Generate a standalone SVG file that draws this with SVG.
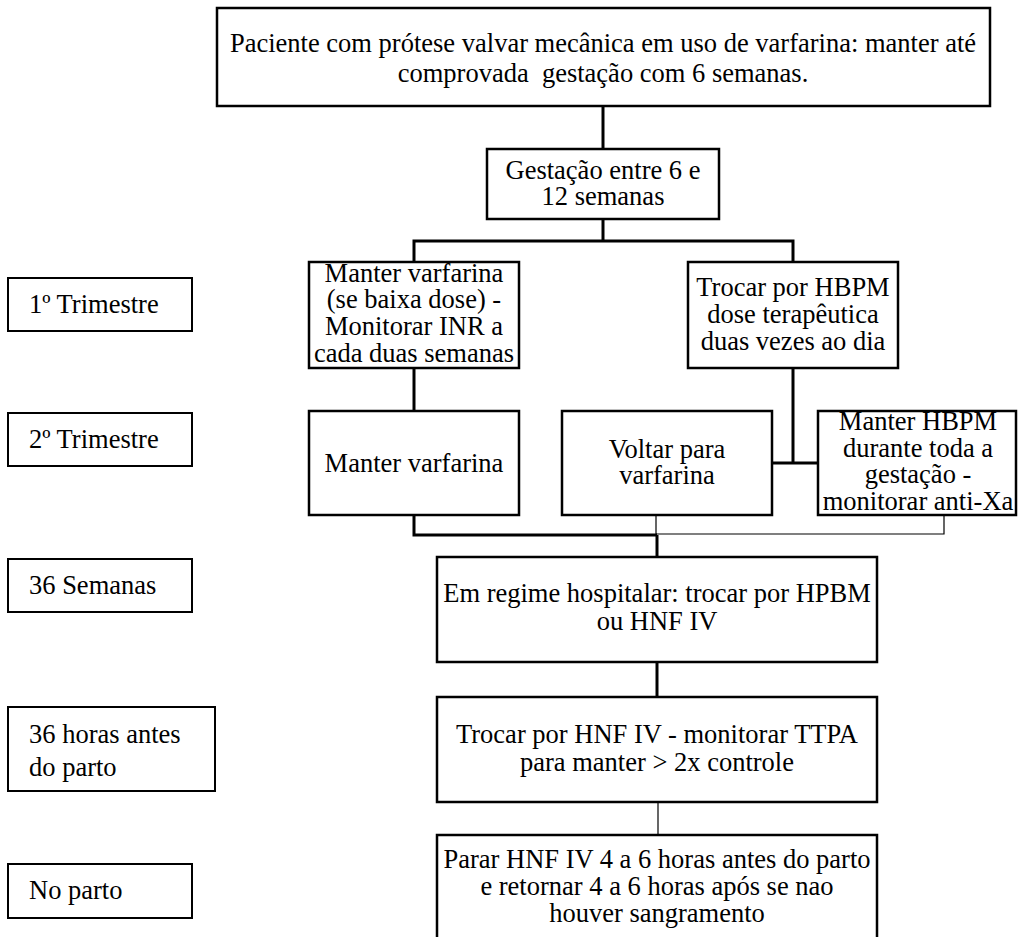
<svg xmlns="http://www.w3.org/2000/svg" width="1019" height="937" viewBox="0 0 1019 937">
  <style>
    .box { fill: #ffffff; stroke: #000000; stroke-width: 2.5; }
    .lbl { fill: #ffffff; stroke: #000000; stroke-width: 2; }
    text { font-family: 'Liberation Serif', 'DejaVu Serif', 'Noto Serif', serif; font-size: 26.5px; fill: #000000; }
    .t { text-anchor: middle; }
    .tl { text-anchor: start; }
    .thick { stroke: #000000; stroke-width: 3; fill: none; }
    .thin { stroke: #000000; stroke-width: 1.2; fill: none; }
  </style>
  <rect x="0" y="0" width="1019" height="937" fill="#ffffff"/>

  <!-- connectors -->
  <g id="connectors">
    <path class="thick" d="M603 106 V149"/>
    <path class="thick" d="M603 219 V241 M414 262 V241 H793 V262"/>
    <path class="thick" d="M414 368 V411"/>
    <path class="thick" d="M793 368 V463 M772 463 H818"/>
    <path class="thick" d="M414 515 V535 H657"/>
    <path class="thin" d="M656 515 V534 H944 V515"/>
    <path class="thick" d="M657 535 V557"/>
    <path class="thick" d="M657 662 V697"/>
    <path class="thin" d="M658 802 V835"/>
  </g>

  <!-- main flow -->
  <g id="n-inicio">
    <rect class="box" x="217" y="8" width="773" height="98" stroke-width="3"/>
    <text class="t" x="603" y="52">Paciente com prótese valvar mecânica em uso de varfarina: manter até</text>
    <text class="t" x="603" y="82" xml:space="preserve">comprovada  gestação com 6 semanas.</text>
  </g>
  <g id="n-gestacao">
    <rect class="box" x="487" y="149" width="232" height="70"/>
    <text class="t" x="603" y="179">Gestação entre 6 e</text>
    <text class="t" x="603" y="205">12 semanas</text>
  </g>
  <g id="n-manter-varfarina-1">
    <rect class="box" x="309" y="262" width="210" height="106"/>
    <text class="t" x="414" y="282">Manter varfarina</text>
    <text class="t" x="414" y="308">(se baixa dose) -</text>
    <text class="t" x="414" y="335">Monitorar INR a</text>
    <text class="t" x="414" y="362">cada duas semanas</text>
  </g>
  <g id="n-trocar-hbpm">
    <rect class="box" x="688" y="262" width="210" height="106"/>
    <text class="t" x="793" y="296">Trocar por HBPM</text>
    <text class="t" x="793" y="323">dose terapêutica</text>
    <text class="t" x="793" y="350">duas vezes ao dia</text>
  </g>
  <g id="n-manter-varfarina-2">
    <rect class="box" x="309" y="411" width="210" height="104"/>
    <text class="t" x="414" y="472">Manter varfarina</text>
  </g>
  <g id="n-voltar">
    <rect class="box" x="562" y="411" width="210" height="104"/>
    <text class="t" x="667" y="458">Voltar para</text>
    <text class="t" x="667" y="484">varfarina</text>
  </g>
  <g id="n-manter-hbpm">
    <rect class="box" x="818" y="411" width="198" height="104"/>
    <text class="t" x="918" y="430">Manter HBPM</text>
    <text class="t" x="918" y="457">durante toda a</text>
    <text class="t" x="918" y="483">gestação -</text>
    <text class="t" x="918" y="510">monitorar anti-Xa</text>
  </g>
  <g id="n-hospitalar">
    <rect class="box" x="437" y="557" width="440" height="105"/>
    <text class="t" x="657" y="602">Em regime hospitalar: trocar por HPBM</text>
    <text class="t" x="657" y="630">ou HNF IV</text>
  </g>
  <g id="n-hnf">
    <rect class="box" x="437" y="697" width="440" height="105"/>
    <text class="t" x="657" y="743">Trocar por HNF IV - monitorar TTPA</text>
    <text class="t" x="657" y="771">para manter &gt; 2x controle</text>
  </g>
  <g id="n-parto">
    <rect class="box" x="437" y="835" width="440" height="110"/>
    <text class="t" x="657" y="868">Parar HNF IV 4 a 6 horas antes do parto</text>
    <text class="t" x="657" y="895">e retornar 4 a 6 horas após se nao</text>
    <text class="t" x="657" y="922">houver sangramento</text>
  </g>

  <!-- period labels -->
  <g id="l-1-trimestre">
    <rect class="lbl" x="8" y="278" width="184" height="53"/>
    <text class="tl" x="29" y="313">1º Trimestre</text>
  </g>
  <g id="l-2-trimestre">
    <rect class="lbl" x="8" y="413" width="184" height="53"/>
    <text class="tl" x="29" y="448">2º Trimestre</text>
  </g>
  <g id="l-36-semanas">
    <rect class="lbl" x="8" y="559" width="184" height="53"/>
    <text class="tl" x="29" y="594">36 Semanas</text>
  </g>
  <g id="l-36-horas">
    <rect class="lbl" x="8" y="707" width="207" height="84"/>
    <text class="tl" x="29" y="743">36 horas antes</text>
    <text class="tl" x="29" y="776">do parto</text>
  </g>
  <g id="l-no-parto">
    <rect class="lbl" x="8" y="864" width="184" height="54"/>
    <text class="tl" x="29" y="899">No parto</text>
  </g>
</svg>
